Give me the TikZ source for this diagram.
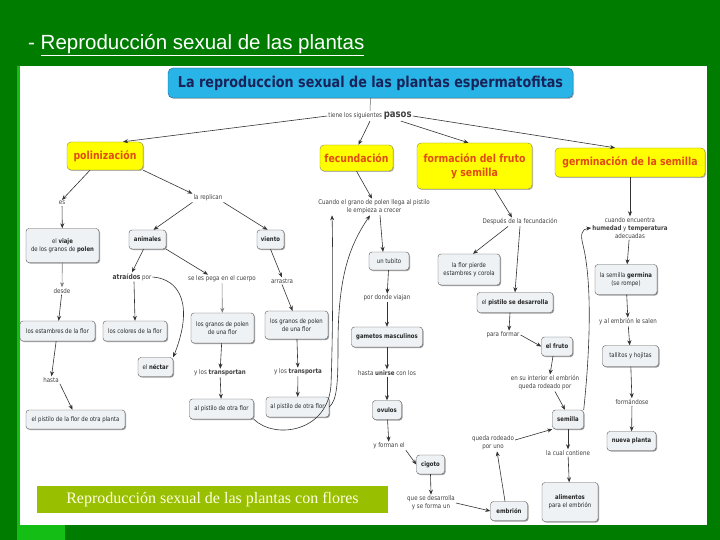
\documentclass[tikz,border=0pt]{standalone}
\usepackage{fontspec}
\setmainfont{Liberation Sans}
\newfontfamily\mapfont[FakeStretch=0.85]{DejaVu Sans}
\newfontfamily\capfont{Liberation Serif}
\usetikzlibrary{arrows.meta,shadows,calc}
\definecolor{bggreen}{RGB}{0,125,0}
\definecolor{brightgreen}{RGB}{20,190,20}
\definecolor{titlefill}{RGB}{40,180,230}
\definecolor{titleborder}{RGB}{30,100,140}
\definecolor{titletext}{RGB}{25,35,90}
\definecolor{yfill}{RGB}{255,255,0}
\definecolor{yborder}{RGB}{140,140,50}
\definecolor{ytext}{RGB}{225,75,20}
\definecolor{boxfill}{RGB}{238,242,245}
\definecolor{capfill}{RGB}{153,192,0}
\definecolor{captext}{RGB}{255,255,225}
\tikzset{
 gbox/.style={draw=black!65, fill=boxfill, rounded corners=3pt, inner sep=1pt, align=center,
   font=\mapfont\fontsize{6.3}{7.8}\selectfont, text=black!85,
   drop shadow={shadow xshift=1pt,shadow yshift=-1pt,fill=black!55,opacity=0.7}},
 ybox/.style={draw=yborder, fill=yfill, rounded corners=4pt, align=center, inner sep=1pt,
   font=\mapfont\bfseries\fontsize{11}{14}\selectfont, text=ytext,
   drop shadow={shadow xshift=1pt,shadow yshift=-1pt,fill=black!40,opacity=0.7}},
 lbl/.style={inner sep=1pt, align=center, font=\mapfont\fontsize{6.5}{8}\selectfont, text=black!75},
 arr/.style={-{Stealth[length=5pt,width=4pt]}, black!80, line width=0.6pt},
}
\begin{document}
\begin{tikzpicture}[x=1pt,y=-1pt]
\useasboundingbox (0,0) rectangle (720,540);
\fill[bggreen] (0,0) rectangle (720,540);
\fill[brightgreen] (17,66) rectangle (20,540);
\fill[brightgreen] (17,525) rectangle (65,540);
\fill[white] (20,66) rectangle (707,525);

% heading
\node[anchor=base west, inner sep=0pt, text=white, font=\fontsize{20.5}{24}\selectfont] (head) at (28,50) {- \underline{Reproducción sexual de las plantas}};

% title
\node[draw=titleborder, fill=titlefill, rounded corners=5pt, minimum width=405pt, minimum height=30pt,
  text=titletext, font=\mapfont\bfseries\fontsize{15}{18}\selectfont,
  drop shadow={shadow xshift=1pt,shadow yshift=-1pt,fill=black!40,opacity=0.6}] (title) at (370.5,83)
  {La reproduccion sexual de las plantas espermatofitas};
\node[lbl] (pasos) at (370,116) {tiene los siguientes {\bfseries\fontsize{10}{11}\selectfont pasos}};

% yellow nodes
\node[ybox, minimum width=76pt, minimum height=28pt] (poli) at (105,156) {polinización};
\node[ybox, minimum width=73pt, minimum height=26pt] (fecu) at (356.5,158) {fecundación};
\node[ybox, minimum width=115pt, minimum height=46pt] (form) at (474.5,166) {formación del fruto\\y semilla};
\node[ybox, minimum width=150pt, minimum height=29pt] (germ) at (630,162.5) {germinación de la semilla};

% polinizacion branch
\node[lbl] (es) at (62,203) {es};
\node[gbox, minimum width=73pt, minimum height=34pt] (viaje) at (62.5,245.5) {el \textbf{viaje}\\de los granos de \textbf{polen}};
\node[lbl] (desde) at (62,291) {desde};
\node[gbox, minimum width=75pt, minimum height=20pt] (estam) at (57.5,331) {los estambres de la flor};
\node[lbl] (hasta) at (51,380) {hasta};
\node[gbox, minimum width=99pt, minimum height=19pt] (pistplanta) at (75.5,419.5) {el pistilo de la flor de otra planta};

\node[lbl] (replican) at (208,198) {la replican};
\node[gbox, minimum width=37pt, minimum height=19pt] (anim) at (147.5,239.5) {\textbf{animales}};
\node[gbox, minimum width=27pt, minimum height=19pt] (viento) at (270.5,239.5) {\textbf{viento}};
\node[lbl] (atraidos) at (132,277) {{\bfseries\fontsize{7}{8}\selectfont atraídos} por};
\node[lbl] (sepega) at (222,279) {se les pega en el cuerpo};
\node[lbl] (arrastra) at (282,281) {arrastra};
\node[gbox, minimum width=64pt, minimum height=20pt] (colores) at (135,331) {los colores de la flor};
\node[gbox, minimum width=63pt, minimum height=30pt] (granos1) at (222.5,328) {los granos de polen\\de una flor};
\node[gbox, minimum width=63pt, minimum height=28pt] (granos2) at (296.5,325) {los granos de polen\\de una flor};
\node[gbox, minimum width=35pt, minimum height=19pt] (nectar) at (155.5,367) {el \textbf{néctar}};
\node[lbl] (transportan) at (220,373) {y los \textbf{transportan}};
\node[lbl] (transporta) at (298,372) {y los \textbf{transporta}};
\node[gbox, minimum width=64pt, minimum height=20pt] (pistotra1) at (221.5,409) {al pistilo de otra flor};
\node[gbox, minimum width=63pt, minimum height=20pt] (pistotra2) at (297.5,407) {al pistilo de otra flor};

% fecundacion branch
\node[lbl] (cuando) at (374,207) {Cuando el grano de polen llega al pistilo\\le empieza a crecer};
\node[gbox, minimum width=40pt, minimum height=18pt] (tubito) at (389,261) {un tubito};
\node[lbl] (pordonde) at (387,298) {por donde viajan};
\node[gbox, minimum width=71pt, minimum height=20pt] (gametos) at (387,337) {\textbf{gametos masculinos}};
\node[lbl] (unirse) at (387,373) {hasta \textbf{unirse} con los};
\node[gbox, minimum width=29pt, minimum height=19pt] (ovulos) at (387,410) {\textbf{ovulos}};
\node[lbl] (forman) at (389,446) {y forman el};
\node[gbox, minimum width=28pt, minimum height=19pt] (cigoto) at (430.5,464.5) {\textbf{cigoto}};
\node[lbl] (desarrolla) at (431,503) {que se desarrolla\\y se forma un};
\node[gbox, minimum width=37pt, minimum height=19pt] (embrion) at (509,511) {\textbf{embrión}};
\node[lbl] (rodeado) at (493,443) {queda rodeado\\por uno};

% fruto branch
\node[lbl] (despues) at (520,222) {Después de la fecundación};
\node[gbox, minimum width=62pt, minimum height=31pt] (florpierde) at (469,269.5) {la flor pierde\\estambres y corola};
\node[gbox, minimum width=76pt, minimum height=20pt] (pistdes) at (515,302.5) {el \textbf{pistilo se desarrolla}};
\node[lbl] (paraformar) at (503,335) {para formar};
\node[gbox, minimum width=31pt, minimum height=19pt] (fruto) at (557,346.5) {\textbf{el fruto}};
\node[lbl] (interior) at (545,383) {en su interior el embrión\\queda rodeado por};
\node[gbox, minimum width=31pt, minimum height=19pt] (semilla) at (568,419.5) {\textbf{semilla}};
\node[lbl] (contiene) at (568,453) {la cual contiene};
\node[gbox, minimum width=56pt, minimum height=39pt] (alimentos) at (570,502) {\textbf{alimentos}\\para el embrión};

% germinacion branch
\node[lbl] (encuentra) at (630,228) {cuando encuentra\\\textbf{humedad} y \textbf{temperatura}\\adecuadas};
\node[gbox, minimum width=62pt, minimum height=30pt] (germina) at (626,279.5) {la semilla \textbf{germina}\\(se rompe)};
\node[lbl] (salen) at (628,322) {y al embrión le salen};
\node[gbox, minimum width=56pt, minimum height=21pt] (tallitos) at (630.5,356) {tallitos y hojitas};
\node[lbl] (formandose) at (632,402) {formándose};
\node[gbox, minimum width=49pt, minimum height=19pt] (nueva) at (631.5,441) {\textbf{nueva planta}};

% caption
\node[fill=capfill, minimum width=351pt, minimum height=27pt, text=captext,
  font=\capfont\fontsize{16}{18}\selectfont] (caption) at (212.5,499.5) {Reproducción sexual de las plantas con flores};

% connectors
\draw[black!60, line width=0.5pt] (title.south) -- (pasos.north);
\draw[arr] (pasos.west) -- ([xshift=18pt]poli.north);
\draw[arr] (pasos.south) -- ([xshift=2pt]fecu.north);
\draw[arr] ([xshift=-12pt]pasos.south east) -- ([xshift=-6pt]form.north);
\draw[arr] (pasos.east) -- ([xshift=-15pt]germ.north);

\draw[arr] ([xshift=-15pt]poli.south) -- (es.north);
\draw[arr] (es) -- (viaje);
\draw[arr] (poli.south east) -- (replican.north west);
\draw[arr] (replican.south west) -- ([xshift=6pt]anim.north);
\draw[arr] (replican.south east) -- ([xshift=-3pt]viento.north);
\draw[arr, black!50] (viaje) -- (desde);
\draw[arr] (desde) -- (estam);
\draw[arr] (estam) -- (hasta);
\draw[arr] (hasta.south east) -- ([xshift=-3pt]pistplanta.north);
\draw[arr] ([xshift=-4pt]anim.south) -- (atraidos.north);
\draw[arr] (anim.south east) -- ([xshift=-14pt]sepega.north);
\draw[arr] ([xshift=2pt]atraidos.south) -- (colores.north);
\draw[arr] (atraidos.east) .. controls (180,279) and (194,305) .. (nectar.north east);
\draw[arr, black!50] (sepega) -- (granos1);
\draw[arr] (viento.south) -- (arrastra.north);
\draw[arr] (arrastra.south) -- ([xshift=-4pt]granos2.north);
\draw[arr] (granos1) -- (transportan);
\draw[arr] (transportan) -- (pistotra1);
\draw[arr] (granos2) -- (transporta);
\draw[arr] (transporta) -- (pistotra2);
\draw[arr] (pistotra1.south east) .. controls (275,440) and (328,432) .. (331,385)
   .. controls (333,330) and (333,260) .. ([xshift=15pt]cuando.south west);
\draw[arr] (pistotra2.east) .. controls (337,400) and (338,385) .. (338,345)
   .. controls (338,275) and (350,245) .. ([xshift=-4pt]cuando.south);

\draw[arr] (fecu.south) -- ([xshift=-2pt]cuando.north);
\draw[arr] ([xshift=6pt]cuando.south) -- ([xshift=-6pt]tubito.north);
\draw[arr] (tubito) -- (pordonde);
\draw[arr] (pordonde) -- (gametos);
\draw[arr] (gametos) -- (unirse);
\draw[arr] (unirse) -- (ovulos);
\draw[arr] (ovulos) -- (forman);
\draw[arr] (forman.south east) -- (cigoto.west);
\draw[arr] (cigoto.south) -- (desarrolla.north);
\draw[arr] (desarrolla.east) -- (embrion.west);
\draw[arr] ([xshift=-4pt]embrion.north) -- ([xshift=4pt]rodeado.south);
\draw[arr] ([yshift=3pt]rodeado.east) -- (semilla.south west);
\draw[arr] (semilla) -- (contiene);
\draw[arr] (contiene) -- (alimentos);

\draw[arr] ([xshift=20pt]form.south) -- ([xshift=-8pt]despues.north);
\draw[arr] ([xshift=-12pt]despues.south) -- ([xshift=4pt]florpierde.north);
\draw[arr] (despues.south) -- (pistdes.north);
\draw[arr] ([xshift=-5pt]pistdes.south) -- ([xshift=6pt]paraformar.north);
\draw[arr] (paraformar.east) -- (fruto.west);
\draw[arr] ([xshift=-4pt]fruto.south) -- ([xshift=5pt]interior.north);
\draw[arr] ([xshift=10pt]interior.south) -- ([xshift=-3pt]semilla.north);
\draw[arr] (semilla.north east) .. controls (588,370) and (594,290) .. (583,245)
   .. controls (580,234) and (582,229) .. (encuentra.west);

\draw[arr] (germ.south) -- (encuentra.north);
\draw[arr] (encuentra) -- (germina);
\draw[arr] (germina) -- (salen);
\draw[arr] (salen) -- (tallitos);
\draw[arr] (tallitos) -- (formandose);
\draw[arr] (formandose) -- (nueva);
\end{tikzpicture}
\end{document}
